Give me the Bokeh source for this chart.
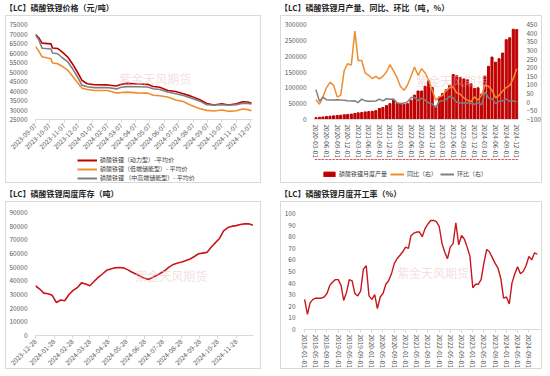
import math
import pandas as pd
from bokeh.plotting import figure
from bokeh.models import (Div, FixedTicker, DatetimeTickFormatter, LinearAxis, Range1d,
                          Legend, LegendItem, Label, NumeralTickFormatter)
from bokeh.layouts import column, row
from bokeh.embed import file_html
from bokeh.resources import INLINE

FONT = "Noto Sans CJK SC"

# ---------------- data: panel 1 (price) ----------------
price_dates = ["2023-09-07", "2023-09-14", "2023-09-21", "2023-10-10", "2023-10-13", "2023-10-24",
               "2023-11-03", "2023-11-14", "2023-11-24", "2023-12-05", "2023-12-15", "2023-12-26",
               "2024-01-10", "2024-02-07", "2024-02-26", "2024-03-07", "2024-03-20", "2024-04-10",
               "2024-05-02", "2024-05-14", "2024-05-28", "2024-06-14", "2024-07-01", "2024-07-17",
               "2024-08-02", "2024-08-20", "2024-09-05", "2024-09-20", "2024-10-07", "2024-10-21",
               "2024-11-07", "2024-11-20", "2024-12-01", "2024-12-09"]
price_power = [69700, 68000, 65200, 64800, 62600, 62400, 60500, 58000, 54500, 50000, 45500, 43800,
               43300, 43200, 42600, 43500, 44000, 43700, 43500, 42400, 42000, 40300, 39700, 38600,
               37300, 35500, 33400, 32600, 33300, 32600, 33300, 34300, 34200, 33600]
price_low = [63500, 61000, 58000, 57000, 54700, 54300, 53000, 51000, 48000, 44500, 41500, 40800,
             40300, 40300, 38900, 39200, 39400, 39000, 38900, 37800, 37500, 36800, 35300, 34500,
             32500, 30800, 29800, 29500, 30000, 29300, 29600, 30500, 30200, 29600]
price_mid = [69400, 67000, 62500, 62100, 60000, 59600, 57500, 55500, 52000, 47500, 43000, 42200,
             41800, 41800, 41100, 42000, 42300, 42200, 42100, 41200, 40800, 39500, 38600, 37600,
             36300, 34800, 32800, 32600, 32800, 32500, 32800, 33600, 33500, 33200]
price_ticks = ["2023-09-07", "2023-10-07", "2023-11-07", "2023-12-07", "2024-01-07", "2024-02-07",
               "2024-03-07", "2024-04-07", "2024-05-07", "2024-06-07", "2024-07-07", "2024-08-07",
               "2024-09-07", "2024-10-07", "2024-11-07", "2024-12-07"]
price_labels = ["磷酸铁锂（动力型）-平均价", "磷酸铁锂（低端储能型）- 平均价", "磷酸铁锂 （中高端储能型）- 平均价"]

# ---------------- data: panel 2 (monthly production) ----------------
prod_months = pd.date_range("2020-03-01", periods=58, freq="MS")
prod = [6000, 7000, 8000, 9500, 10500, 11500, 12500, 13500, 15000, 16000,
        17000, 19000, 21000, 22000, 24000, 25000, 26000, 28000, 35000, 38000,
        44000, 50000, 61000, 52000, 48000, 48000, 50000, 61000, 77000, 90000,
        90000, 105000, 122000, 101000, 42000, 71000, 82000, 94000, 108000, 142000,
        138000, 132000, 128000, 126000, 113000, 98000, 100000, 80000, 137000, 168000,
        197000, 181000, 192000, 210000, 252000, 258000, 285000, 284000]
yoy = [15, -12, 31, 85, 115, 98, 31, 40, 185, 223,
       215, 412, 242, 242, 169, 156, 137, 150, 135, 150,
       175, 217, 181, 142, 92, 69, 98, 150, 204, 156,
       194, 169, 127, 69, 12, 31, 40, 69, 85, 88,
       54, 46, 25, 12, 2, 31, 12, 40, 98, 92,
       69, 25, 40, 65, 85, 98, 137, 194]
mom = [73, 5, 30, 14, 13, 13, 14, 13, 12, 8,
       7, 8, -2, 18, 8, 6, 5, 7, 18, 8,
       20, 17, 18, -5, -8, -5, 2, 28, 28, 10,
       22, 12, -5, -10, -30, 5, 8, 15, 35, 25,
       0, -5, -3, -5, -8, -12, -2, -15, 60, 25,
       20, -8, 5, 8, 18, 5, 8, 3]
prod_ticks = ["2020-03-01", "2020-06-01", "2020-09-01", "2020-12-01", "2021-03-01", "2021-06-01",
              "2021-09-01", "2021-12-01", "2022-03-01", "2022-06-01", "2022-09-01", "2022-12-01",
              "2023-03-01", "2023-06-01", "2023-09-01", "2023-12-01", "2024-03-01", "2024-06-01",
              "2024-09-01", "2024-12-01"]
prod_labels = ["磷酸铁锂月度产量", "同比（右）", "环比（右）"]

# ---------------- data: panel 3 (weekly inventory) ----------------
inv_dates = pd.date_range("2023-12-28", periods=53, freq="7D")
inv = [36400, 34000, 31000, 30600, 29400, 24000, 26000, 25400, 30000, 33000,
       35000, 38500, 37700, 36400, 39500, 42500, 45000, 47700, 48700, 49500,
       49700, 49500, 48200, 46500, 45000, 43500, 42000, 41000, 42500, 44000,
       45700, 47700, 50200, 52000, 53000, 53800, 54800, 56000, 57800, 59800,
       60300, 60800, 64600, 67800, 71000, 76600, 79000, 80000, 80400, 81200,
       81700, 81700, 80700]
inv_ticks = ["2023-12-28", "2024-01-28", "2024-02-28", "2024-03-28", "2024-04-28", "2024-05-28",
             "2024-06-28", "2024-07-28", "2024-08-28", "2024-09-28", "2024-10-28", "2024-11-28"]

# ---------------- data: panel 4 (monthly operating rate) ----------------
op_months = pd.date_range("2018-01-01", periods=84, freq="MS")
op_rate = [26, 13, 23, 26, 27, 27, 27, 28, 31, 38, 41, 43,
           43, 38, 25, 32, 43, 42, 31, 29, 33, 52, 55, 29,
           26, 30, 18, 28, 31, 39, 42, 48, 57, 61, 64, 67,
           71, 70, 81, 83, 84, 84, 80, 87, 91, 94, 94, 93,
           89, 74, 67, 61, 71, 74, 92, 73, 81, 78, 71, 63,
           36, 39, 39, 43, 57, 69, 67, 62, 57, 53, 44, 27,
           28, 22, 40, 48, 54, 48, 50, 55, 63, 60, 66, 65]
op_ticks = ["2018-01-01", "2018-05-01", "2018-09-01", "2019-01-01", "2019-05-01", "2019-09-01",
            "2020-01-01", "2020-05-01", "2020-09-01", "2021-01-01", "2021-05-01", "2021-09-01",
            "2022-01-01", "2022-05-01", "2022-09-01", "2023-01-01", "2023-05-01", "2023-09-01",
            "2024-01-01", "2024-05-01", "2024-09-01"]

titles = ["【LC】磷酸铁锂价格（元/吨）", "【LC】磷酸铁锂月产量、同比、环比（吨，%）",
          "【LC】磷酸铁锂周度库存（吨）", "【LC】磷酸铁锂月度开工率（%）"]
watermark = "紫金天风期货"

RED = "#C00000"
ORANGE = "#F08C2E"
GRAY = "#7F7F7F"
BORDER = "1px solid #D9D9D9"
W_L, W_R = 256, 262


def ms(s):
    return pd.Timestamp(s).value / 1e6


def dt_fmt():
    f = "%Y-%m-%d"
    return DatetimeTickFormatter(years=f, months=f, days=f, hours=f, hourmin=f, minutes=f)


def make_fig(w, h, x0, x1, y0, y1, top, left, right, styles):
    p = figure(width=w, height=h, x_axis_type="datetime",
               x_range=Range1d(ms(x0), ms(x1)), y_range=Range1d(y0, y1),
               output_backend="svg", toolbar_location=None,
               min_border_top=top, min_border_left=left, min_border_right=right,
               min_border_bottom=4, background_fill_color="white", border_fill_color="white",
               styles=styles, margin=(0, 0, 0, 0))
    p.grid.grid_line_color = None
    p.outline_line_color = None
    return p


def legend_fig(w, h, x0, x1):
    # a strip that only hosts the legend; its y range lies below all data so
    # the proxy renderers themselves stay out of view
    p = figure(width=w, height=h, x_range=Range1d(ms(x0), ms(x1)),
               y_range=Range1d(-2000000, -1000000),
               x_axis_location=None, y_axis_location=None, output_backend="svg",
               toolbar_location=None, min_border=0, border_fill_color="white",
               styles={"border": BORDER, "border-top": "none"}, margin=(0, 0, 0, 0))
    p.grid.grid_line_color = None
    p.outline_line_color = None
    return p


def style_axis(ax, is_x):
    ax.major_label_text_font = FONT
    ax.major_label_text_font_size = "6.5px"
    ax.major_label_text_color = "#595959"
    ax.minor_tick_line_color = None
    ax.major_label_standoff = 2
    if is_x:
        ax.axis_line_color = "#D9D9D9"
        ax.major_tick_line_color = "#D9D9D9"
        ax.major_tick_out = 3
        ax.major_tick_in = 0
    else:
        ax.axis_line_color = None
        ax.major_tick_line_color = None


def add_mark(p, x, y):
    p.add_layout(Label(x=ms(x), y=y, text=watermark, text_font=FONT, text_font_size="12px",
                       text_color="#E8BFBF", text_alpha=0.5, text_baseline="middle"))


def title_div(t, w):
    return Div(text=t, width=w, height=15, margin=(0, 0, 0, 0),
               styles={"font-family": FONT, "font-size": "8px", "font-weight": "bold",
                       "color": "#262626", "line-height": "15px", "padding-left": "0px",
                       "white-space": "nowrap", "overflow": "hidden"})


def make_legend(items, orientation, loc, font_size, spacing, glyph_w):
    return Legend(items=items, orientation=orientation, location=loc,
                  label_text_font=FONT, label_text_font_size=font_size, label_text_color="#404040",
                  glyph_width=glyph_w, glyph_height=6, label_height=6, label_width=10,
                  spacing=spacing, padding=1,
                  border_line_color=None, background_fill_alpha=0, margin=0,
                  label_standoff=3)


TOP_STYLE = {"border": BORDER, "border-bottom": "none"}
FULL_STYLE = {"border": BORDER}

# ---------------- panel 1 ----------------
P1_X = ("2023-09-07", "2024-12-11")
p1 = make_fig(W_L, 138, P1_X[0], P1_X[1], 25000, 75000, 8, 27, 10, TOP_STYLE)
pdx = pd.to_datetime(price_dates)
p1.line(pdx, price_power, color=RED, line_width=1.6)
p1.line(pdx, price_low, color=ORANGE, line_width=1.6)
p1.line(pdx, price_mid, color=GRAY, line_width=1.6)
p1.xaxis.ticker = FixedTicker(ticks=[ms(t) for t in price_ticks])
p1.xaxis.formatter = dt_fmt()
p1.xaxis.major_label_orientation = math.pi / 4
p1.yaxis.ticker = FixedTicker(ticks=list(range(25000, 75001, 5000)))
p1.yaxis.formatter = NumeralTickFormatter(format="0")
style_axis(p1.xaxis[0], True)
style_axis(p1.yaxis[0], False)
add_mark(p1, "2024-03-03", 46500)

lf1 = legend_fig(W_L, 30, P1_X[0], P1_X[1])
k1 = lf1.line(pdx, price_power, color=RED, line_width=2)
k2 = lf1.line(pdx, price_low, color=ORANGE, line_width=2)
k3 = lf1.line(pdx, price_mid, color=GRAY, line_width=2)
lf1.add_layout(make_legend([LegendItem(label=price_labels[0], renderers=[k1]),
                            LegendItem(label=price_labels[1], renderers=[k2]),
                            LegendItem(label=price_labels[2], renderers=[k3])],
                           "vertical", (42, 1), "6px", 0, 20))

# ---------------- panel 2 ----------------
P2_X = ("2020-02-18", "2024-12-16")
p2 = make_fig(W_R, 144, P2_X[0], P2_X[1], 0, 300000, 8, 29, 20, TOP_STYLE)
p2.extra_y_ranges = {"pct": Range1d(-100, 450)}
p2.vbar(x=prod_months, top=prod, width=18 * 86400000, color=RED)
p2.line(prod_months, yoy, y_range_name="pct", color=ORANGE, line_width=1.5)
p2.line(prod_months, mom, y_range_name="pct", color=GRAY, line_width=1.5)
p2.xaxis.ticker = FixedTicker(ticks=[ms(t) for t in prod_ticks])
p2.xaxis.formatter = dt_fmt()
p2.xaxis.major_label_orientation = "vertical"
p2.yaxis.ticker = FixedTicker(ticks=list(range(0, 300001, 50000)))
p2.yaxis.formatter = NumeralTickFormatter(format="0")
ax_r = LinearAxis(y_range_name="pct", ticker=FixedTicker(ticks=list(range(-100, 451, 50))))
p2.add_layout(ax_r, "right")
style_axis(p2.xaxis[0], True)
p2.xaxis[0].major_tick_line_color = None
for ax in p2.yaxis:
    style_axis(ax, False)
add_mark(p2, "2022-07-15", 124000)

lf2 = legend_fig(W_R, 24, P2_X[0], P2_X[1])
b1 = lf2.vbar(x=prod_months, top=prod, width=18 * 86400000, color=RED)
b2 = lf2.line(prod_months, yoy, color=ORANGE, line_width=2)
b3 = lf2.line(prod_months, mom, color=GRAY, line_width=2)
lf2.add_layout(make_legend([LegendItem(label=prod_labels[0], renderers=[b1]),
                            LegendItem(label=prod_labels[1], renderers=[b2]),
                            LegendItem(label=prod_labels[2], renderers=[b3])],
                           "horizontal", (8, 5), "6px", 3, 14))

# ---------------- panel 3 ----------------
p3 = make_fig(W_L, 168, "2023-12-28", "2024-12-27", 0, 90000, 10, 28, 9, FULL_STYLE)
p3.line(inv_dates, inv, color="#C8161D", line_width=1.6)
p3.xaxis.ticker = FixedTicker(ticks=[ms(t) for t in inv_ticks])
p3.xaxis.formatter = dt_fmt()
p3.xaxis.major_label_orientation = math.pi / 4
p3.yaxis.ticker = FixedTicker(ticks=list(range(0, 90001, 10000)))
p3.yaxis.formatter = NumeralTickFormatter(format="0")
style_axis(p3.xaxis[0], True)
style_axis(p3.yaxis[0], False)
add_mark(p3, "2024-06-12", 44000)

# ---------------- panel 4 ----------------
p4 = make_fig(W_R, 168, "2017-12-20", "2025-01-05", 0, 100, 11, 17, 3, FULL_STYLE)
p4.line(op_months, op_rate, color="#C8161D", line_width=1.4)
p4.xaxis.ticker = FixedTicker(ticks=[ms(t) for t in op_ticks])
p4.xaxis.formatter = dt_fmt()
p4.xaxis.major_label_orientation = "vertical"
p4.yaxis.ticker = FixedTicker(ticks=list(range(0, 101, 10)))
style_axis(p4.xaxis[0], True)
style_axis(p4.yaxis[0], False)
add_mark(p4, "2020-10-01", 49)

col1 = column(title_div(titles[0], W_L), p1, lf1, spacing=0)
col2 = column(title_div(titles[1], W_R), p2, lf2, spacing=0)
col3 = column(title_div(titles[2], W_L), p3, spacing=0)
col4 = column(title_div(titles[3], W_R), p4, spacing=0)
root = column(row(col1, col2, spacing=19), row(col3, col4, spacing=19), spacing=3,
              margin=(0, 0, 0, 5))

open("out.html", "w").write(file_html(root, INLINE))
